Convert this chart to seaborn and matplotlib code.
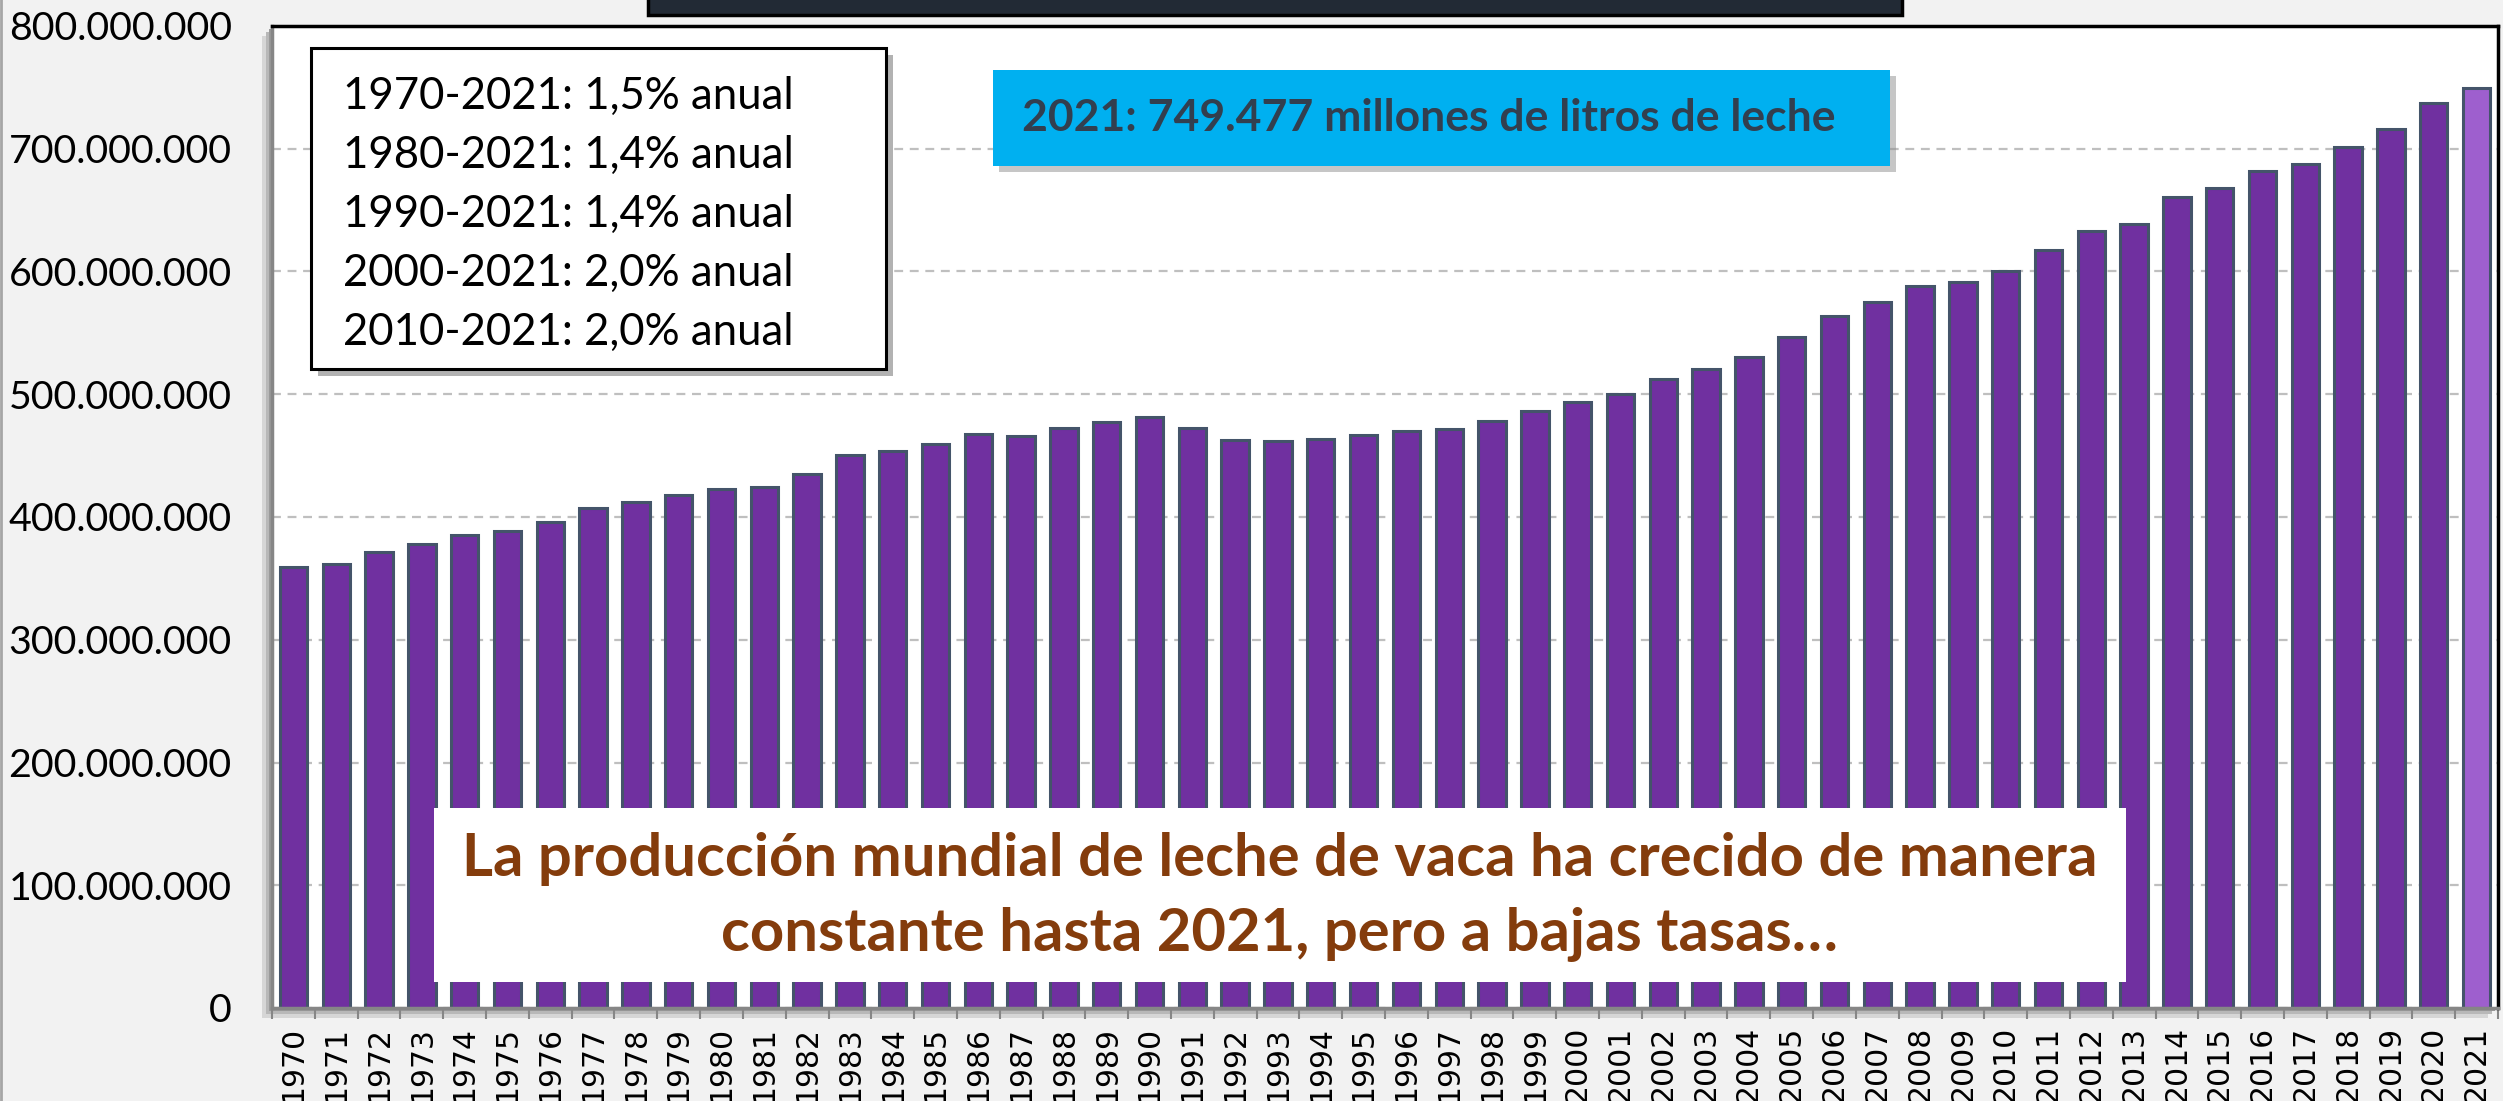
import numpy as np
import pandas as pd
import seaborn as sns
import matplotlib.pyplot as plt
import matplotlib.patheffects as pe
from matplotlib.patches import Rectangle
from matplotlib.ticker import FuncFormatter

# Datos: produccion mundial de leche de vaca (millones de litros)
anios = ['1970', '1971', '1972', '1973', '1974', '1975', '1976', '1977', '1978', '1979',
         '1980', '1981', '1982', '1983', '1984', '1985', '1986', '1987', '1988', '1989',
         '1990', '1991', '1992', '1993', '1994', '1995', '1996', '1997', '1998', '1999',
         '2000', '2001', '2002', '2003', '2004', '2005', '2006', '2007', '2008', '2009',
         '2010', '2011', '2012', '2013', '2014', '2015', '2016', '2017', '2018', '2019',
         '2020', '2021']
leche_millones = [359.5, 361.9, 371.7, 378.0, 385.3, 388.6, 395.7, 407.1, 412.2, 417.7,
                  422.8, 424.4, 435.0, 450.5, 454.0, 459.7, 467.4, 466.3, 472.3, 477.7,
                  481.2, 472.2, 462.5, 461.7, 463.3, 466.8, 470.0, 472.0, 478.2, 486.6,
                  493.5, 500.2, 512.7, 520.6, 530.1, 546.7, 563.4, 575.4, 587.8, 591.8,
                  600.0, 617.7, 633.4, 638.3, 660.9, 668.0, 681.5, 687.8, 701.3, 715.7,
                  737.5, 749.477]

tasas = ["1970-2021: 1,5% anual",
         "1980-2021: 1,4% anual",
         "1990-2021: 1,4% anual",
         "2000-2021: 2,0% anual",
         "2010-2021: 2,0% anual"]
nota = "2021: 749.477 millones de litros de leche"
mensaje = ["La producción mundial de leche de vaca ha crecido de manera",
           "constante hasta 2021, pero a bajas tasas…"]

df = pd.DataFrame({'anio': anios, 'litros': [v * 1e6 for v in leche_millones]})

plt.rcParams['font.family'] = ['Lato', 'DejaVu Sans']

W, H = 2503, 1101
fig = plt.figure(figsize=(W / 100, H / 100), dpi=100, facecolor='#f2f2f2')


def fx(px):
    return px / W


def fy(py):
    return 1 - py / H


ax = fig.add_axes([fx(272), fy(1008), fx(2498) - fx(272), fy(26) - fy(1008)])
ax.set_facecolor('white')

# sombra del area de grafico
for off, col in [(10, '#d6d6d6'), (6, '#b8b8b8'), (3, '#9a9a9a')]:
    fig.add_artist(Rectangle((fx(272 - off), fy(1008 + off)), fx(2498) - fx(272), fy(26) - fy(1008),
                             transform=fig.transFigure, facecolor=col, edgecolor='none', zorder=-1))

colores = ['#7030a0'] * (len(anios) - 1) + ['#9e5fce']
sns.barplot(data=df, x='anio', y='litros', hue='anio', palette=colores, legend=False,
            width=0.64, edgecolor='#44546a', linewidth=2.2, saturation=1, ax=ax)

ax.set_xlim(-0.5, len(anios) - 0.5)
ax.set_ylim(0, 800e6)
ax.set_yticks(np.arange(0, 800e6 + 1, 100e6))
ax.yaxis.set_major_formatter(FuncFormatter(lambda v, p: f"{v:,.0f}".replace(',', '.')))
ax.grid(axis='y', color='#bfbfbf', linestyle=(0, (4, 3)), linewidth=1.6)
ax.set_axisbelow(True)
ax.set_xlabel('')
ax.set_ylabel('')

ax.tick_params(axis='y', length=0, pad=29, labelsize=28.4, labelcolor='black')
ax.tick_params(axis='x', which='major', length=0, pad=13, labelsize=21.5,
               labelrotation=90, labelfontfamily='DejaVu Sans', labelcolor='black')
ax.set_xticks(np.arange(-0.5, len(anios)), minor=True)
ax.tick_params(axis='x', which='minor', length=8, width=1.5, color='#868686', direction='out')

for s in ['top', 'right']:
    ax.spines[s].set_color('black')
    ax.spines[s].set_linewidth(2.5)
for s in ['left', 'bottom']:
    ax.spines[s].set_color('#868686')
    ax.spines[s].set_linewidth(2.5)

# caja de titulo (recortada arriba)
fig.add_artist(Rectangle((fx(648), fy(15)), fx(1902) - fx(648), fy(-10) - fy(15),
                         transform=fig.transFigure, facecolor='#222a35', edgecolor='black',
                         linewidth=2.5, zorder=3))

# caja de tasas
fig.add_artist(Rectangle((fx(311), fy(369)), fx(886) - fx(311), fy(48) - fy(369),
                         transform=fig.transFigure, facecolor='white', edgecolor='black',
                         linewidth=2.2, zorder=3,
                         path_effects=[pe.withSimplePatchShadow(offset=(5, -5), shadow_rgbFace='#7f7f7f', alpha=0.6)]))
for i, t in enumerate(tasas):
    fig.text(fx(343), fy(96 + i * 59), t, fontsize=31.5, ha='left', va='center', color='black', zorder=4)

# nota 2021
fig.add_artist(Rectangle((fx(993), fy(166)), fx(1890) - fx(993), fy(70) - fy(166),
                         transform=fig.transFigure, facecolor='#00b0f0', edgecolor='none', zorder=3,
                         path_effects=[pe.withSimplePatchShadow(offset=(4, -4), shadow_rgbFace='#8f8f8f', alpha=0.5)]))
fig.text(fx(1429), fy(118), nota, fontsize=32, fontweight='bold', ha='center', va='center',
         color='#323f4f', zorder=4)

# mensaje
fig.add_artist(Rectangle((fx(434), fy(982)), fx(2126) - fx(434), fy(808) - fy(982),
                         transform=fig.transFigure, facecolor='white', edgecolor='none', zorder=3))
for i, t in enumerate(mensaje):
    fig.text(fx(1280), fy(859 + i * 75), t, fontsize=43, fontweight='bold', ha='center', va='center',
             color='#843c0c', zorder=4)

fig.add_artist(plt.Line2D([fx(1), fx(1)], [0, 1], transform=fig.transFigure, color='#a6a6a6', linewidth=2))

fig.savefig('out.png', dpi=100, facecolor=fig.get_facecolor())
